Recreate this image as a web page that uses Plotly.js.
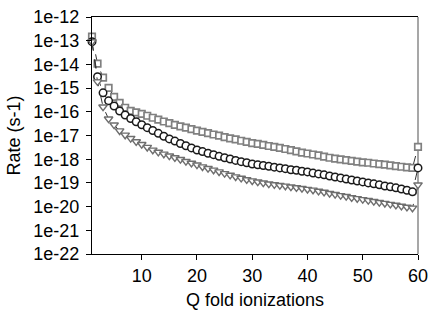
<!DOCTYPE html>
<html>
<head>
<meta charset="utf-8">
<script src="https://cdn.plot.ly/plotly-3.0.1.min.js"></script>
<style>html,body{margin:0;padding:0;background:#fff;}#chart{width:436px;height:319px;}</style>
</head>
<body>
<div id="chart"></div>
<script>
var q = [];
for (var i = 1; i <= 60; i++) q.push(i);

var rateSquares = [1.48e-13,1.07e-14,2.75e-15,1.02e-15,4.27e-16,2.40e-16,1.48e-16,1.10e-16,9.5e-17,8.1e-17,
  6.8e-17,5.6e-17,4.7e-17,3.9e-17,3.3e-17,2.8e-17,2.45e-17,2.14e-17,1.86e-17,1.62e-17,
  1.41e-17,1.26e-17,1.10e-17,9.8e-18,8.5e-18,7.6e-18,6.8e-18,6.0e-18,5.4e-18,4.8e-18,
  4.4e-18,4.0e-18,3.6e-18,3.3e-18,3.0e-18,2.7e-18,2.4e-18,2.14e-18,1.9e-18,1.74e-18,
  1.58e-18,1.44e-18,1.29e-18,1.15e-18,1.05e-18,9.8e-19,9.1e-19,8.5e-19,7.9e-19,7.4e-19,
  7.1e-19,6.6e-19,6.2e-19,5.9e-19,5.5e-19,5.1e-19,4.8e-19,4.5e-19,4.3e-19,3.3e-18];

var rateCircles = [9.1e-14,3.0e-15,6.3e-16,2.9e-16,1.75e-16,1.08e-16,7.3e-17,5.2e-17,3.8e-17,2.85e-17,
  2.14e-17,1.62e-17,1.23e-17,9.3e-18,7.2e-18,5.8e-18,4.6e-18,3.7e-18,3.0e-18,2.45e-18,
  2.09e-18,1.78e-18,1.55e-18,1.32e-18,1.15e-18,1.02e-18,8.9e-19,7.9e-19,7.1e-19,6.3e-19,
  5.8e-19,5.4e-19,5.0e-19,4.6e-19,4.3e-19,4.0e-19,3.6e-19,3.4e-19,3.1e-19,2.9e-19,
  2.6e-19,2.4e-19,2.19e-19,1.95e-19,1.78e-19,1.62e-19,1.45e-19,1.32e-19,1.20e-19,1.10e-19,
  1.0e-19,9.1e-20,8.3e-20,7.4e-20,6.8e-20,6.2e-20,5.5e-20,4.9e-20,4.2e-20,4.3e-19];

var rateTriangles = [9.1e-14,1.86e-15,1.62e-16,5.0e-17,2.8e-17,1.58e-17,1.05e-17,7.6e-18,5.5e-18,4.2e-18,
  3.2e-18,2.45e-18,2.0e-18,1.66e-18,1.38e-18,1.17e-18,9.8e-19,8.1e-19,6.8e-19,5.8e-19,
  4.8e-19,4.1e-19,3.5e-19,2.95e-19,2.5e-19,2.14e-19,1.82e-19,1.58e-19,1.38e-19,1.23e-19,
  1.10e-19,1.0e-19,9.1e-20,8.5e-20,7.9e-20,7.4e-20,6.8e-20,6.3e-20,5.9e-20,5.4e-20,
  5.0e-20,4.5e-20,4.1e-20,3.6e-20,3.3e-20,2.95e-20,2.7e-20,2.4e-20,2.19e-20,2.0e-20,
  1.82e-20,1.66e-20,1.51e-20,1.38e-20,1.26e-20,1.15e-20,1.05e-20,9.5e-21,8.7e-21,8.3e-20];

var xTickVals = [10,20,30,40,50,60];
var yTickVals = [1e-22,1e-21,1e-20,1e-19,1e-18,1e-17,1e-16,1e-15,1e-14,1e-13,1e-12];
var yTickText = ['1e-22','1e-21','1e-20','1e-19','1e-18','1e-17','1e-16','1e-15','1e-14','1e-13','1e-12'];

var lineStyle = {color: '#333333', width: 1, dash: 'dash'};

var traces = [
  {x: q, y: rateSquares, type: 'scatter', mode: 'lines+markers', line: lineStyle, cliponaxis: false,
   marker: {symbol: 'square', size: 6.5, color: '#ffffff', line: {color: '#808080', width: 1.7}}},
  {x: q, y: rateCircles, type: 'scatter', mode: 'lines+markers', line: lineStyle, cliponaxis: false,
   marker: {symbol: 'circle', size: 7.5, color: '#ffffff', line: {color: '#1a1a1a', width: 1.5}}},
  {x: q, y: rateTriangles, type: 'scatter', mode: 'lines+markers', line: lineStyle, cliponaxis: false,
   marker: {symbol: 'triangle-down', size: 7.5, color: '#ffffff', line: {color: '#6e6e6e', width: 1.4}}}
];

var font = {family: 'Liberation Sans, Arial, sans-serif', size: 18, color: '#000'};

var layout = {
  width: 436, height: 319,
  margin: {l: 92, r: 18, t: 17, b: 65},
  paper_bgcolor: '#fff', plot_bgcolor: '#fff',
  showlegend: false,
  font: font,
  xaxis: {
    range: [1, 60], tickvals: xTickVals, ticks: 'outside', ticklen: 5, tickcolor: '#000',
    showline: true, linecolor: '#000', linewidth: 1, mirror: true, showgrid: false, zeroline: false,
    tickfont: font, title: {text: 'Q fold ionizations', font: font, standoff: 8}
  },
  yaxis: {
    type: 'log', range: [-22, -12], tickvals: yTickVals, ticktext: yTickText,
    ticks: 'outside', ticklen: 5, tickcolor: '#000', ticklabelstandoff: 3,
    showline: true, linecolor: '#000', linewidth: 1, showgrid: false, zeroline: false,
    tickfont: font, title: {text: 'Rate (s-1)', font: font, standoff: 8}
  },
  shapes: [
    {type: 'line', xref: 'paper', yref: 'paper', x0: 1, x1: 1, y0: 0, y1: 1,
     line: {color: '#8a8a8a', width: 1.5}, layer: 'below'}
  ]
};

Plotly.newPlot('chart', traces, layout, {staticPlot: true, displayModeBar: false});
</script>
</body>
</html>
